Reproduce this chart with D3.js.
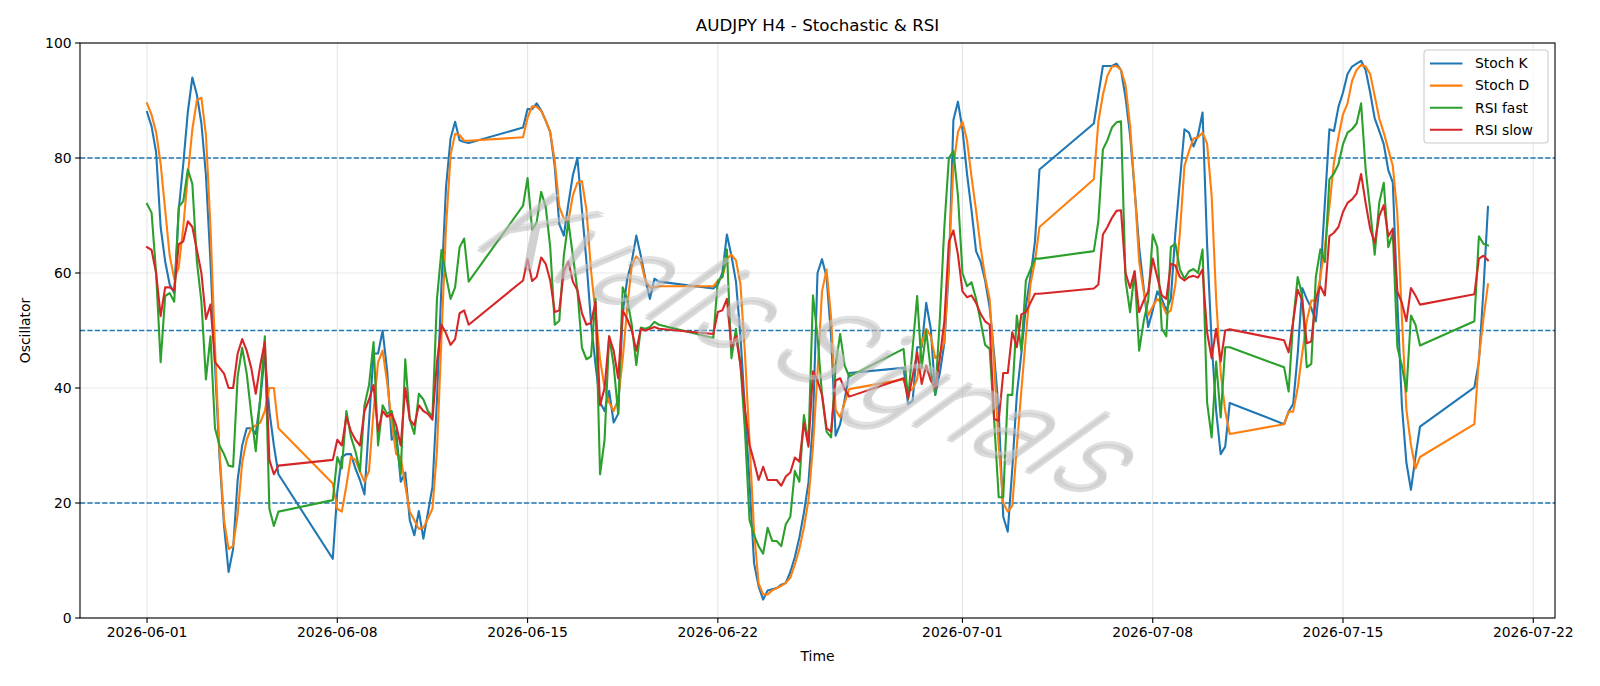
<!DOCTYPE html>
<html>
<head>
<meta charset="utf-8">
<script src="https://cdn.jsdelivr.net/npm/d3@7"></script>
<style>
  body { margin: 0; background: #fff; }
  svg { display: block; font-family: "DejaVu Sans", sans-serif; }
</style>
</head>
<body>
<div id="chart"></div>
<script>
// H4 bars, one session per week (Sunday 20:00 open, last bar Friday 20:00)
const weekOpens = ["2026-06-01 00:00", "2026-06-07 20:00", "2026-06-14 20:00", "2026-06-21 20:00",
                   "2026-06-28 20:00", "2026-07-05 20:00", "2026-07-12 20:00", "2026-07-19 20:00"];
const barsPerWeek = [30, 31, 31, 31, 31, 31, 31, 4];

const stochK = [
  88, 85.5, 81, 68, 62, 58, 56.5, 71, 79, 88, 94, 91, 86, 77, 62, 44, 28, 16, 8, 12, 24, 30, 33, 33, 32, 38, 46, 36, 30, 25,
  10.3, 22, 28, 28.5, 28.5, 26, 24, 21.5, 34, 46, 46, 50, 43, 31, 32.5, 23.7, 25.3, 17, 14.4, 18.6, 13.8, 18.3, 22.8, 38, 58, 75, 83.4, 86.3, 83.1, 82.8, 82.6,
  85.3, 88.5, 88.5, 89.5, 88.3, 86.5, 84.5, 78.5, 68.5, 66.5, 72, 77, 80, 71, 62, 51.5, 44, 37.5, 36, 39.5, 34, 35.5, 53, 59, 62, 66.5, 63, 59, 55.5, 59, 58.5,
  57.3, 58, 60, 66.7, 63, 58.5, 49, 36, 23.5, 9.5, 5.5, 3.2, 4.8, 5, 5.2, 5.8, 6.1, 8, 10.6, 14, 18.3, 23.5, 34, 60, 62.4, 59.3, 49, 31.7, 33.7, 38, 42.6,
  43.5, 37.2, 37.8, 47.1, 47.1, 54.8, 50.3, 38.8, 42.6, 47.8, 60.6, 86.6, 89.8, 85, 77.3, 70.9, 63.8, 62, 58.7, 54, 45.8, 36, 17.6, 15, 26, 38.8, 46, 54.2, 59.3, 65.4, 78,
  86, 91, 96, 96, 96, 96.4, 95.3, 90.5, 84, 74.5, 64.5, 57.4, 50.6, 53.5, 56.8, 55.5, 53.5, 55.5, 67, 76, 85, 84.4, 82, 84, 87.9, 65, 48, 36, 28.5, 29.8, 37.4,
  33.7, 35.9, 37.2, 45.9, 57.4, 55.5, 53.9, 51.6, 59.3, 72.2, 85, 84.7, 88.9, 91.4, 94.6, 95.9, 96.4, 96.9, 95.3, 91.4, 86.9, 84.7, 82.4, 77.9, 75.7, 55, 37, 27, 22.3, 28, 33.3,
  40.1, 44.6, 57, 71.5
];
const stochD = [
  89.5, 87.5, 84.5, 79, 71, 63, 59, 61, 68, 77, 85, 90, 90.5, 84, 68, 47, 29, 17, 12, 12.5, 18, 27, 31, 33, 33.5, 34, 36, 40, 40, 33,
  23.4, 19, 18.5, 23, 28, 27.5, 25.5, 23.7, 25.6, 36, 44.5, 46.5, 41, 34, 28.5, 28, 23, 18.5, 17, 15.5, 15.7, 17.3, 19, 29, 49, 68, 80.5, 84.2, 84, 83, 83,
  83.6, 87, 89, 88.9, 88.2, 86.5, 84.5, 79.5, 71.5, 69.5, 69, 73.5, 75.7, 76, 71, 60.5, 53, 45, 40, 37.5, 36, 38, 45, 54, 61.3, 62.9, 62, 58.7, 57.5, 57.5, 57.7,
  57.7, 58.6, 59.3, 62.5, 63.2, 62.2, 58, 45.8, 30.5, 15, 6, 4.1, 4.1, 4.8, 5.2, 5.6, 6.1, 7, 9.3, 12, 15.7, 20.5, 29.8, 42.6, 56.8, 60.6, 52.3, 36.2, 34.9, 37.5, 39.8,
  41.5, 39.4, 39.8, 41.5, 47.8, 50.3, 49, 45.2, 45.8, 48, 62, 78.5, 84.5, 86.3, 83.1, 76.7, 70.9, 64.5, 59.3, 55.5, 44, 30, 20, 18.5, 19.5, 29.8, 39.5, 49, 58, 62, 68,
  76.3, 86.3, 91, 94.3, 95.9, 96, 95.3, 92.7, 85.6, 74.7, 62, 56.8, 52.6, 54.2, 55.5, 54.8, 52.9, 53.5, 58, 67, 78.6, 81.2, 83.4, 83.6, 84.4, 82.5, 73.5, 55.5, 42.6, 36, 32,
  33.7, 35.9, 35.9, 40, 46, 51.6, 55.2, 55.2, 59.3, 64.5, 71.5, 79.2, 83.7, 87.6, 89.5, 93.4, 95.3, 96.2, 95.9, 94.6, 90.8, 86.9, 84.4, 81.5, 78.6, 70.3, 52.3, 36.2, 30.1, 26, 28,
  33.7, 45.2, 52, 58
];
const rsiFast = [
  72, 70.5, 60, 44.5, 56, 56.5, 55, 71.5, 72.5, 78, 75.5, 62, 55, 41.5, 49, 33, 30, 28.5, 26.5, 26.3, 42, 47, 42.5, 35.5, 29, 38.5, 49, 19, 16, 18.5,
  20.5, 28, 26, 36, 31.5, 29, 25.5, 37, 40.5, 48, 30, 37, 35.5, 36, 31, 25, 45, 34.5, 32, 39, 38, 36, 35, 55.5, 64, 59.5, 55.5, 57.5, 64.5, 66, 58.5,
  71.7, 76.5, 67.5, 68.8, 74.1, 71.5, 64.5, 51, 51.7, 63, 69, 63, 57, 47, 45, 45.5, 55.5, 25, 31, 49, 44, 35.5, 57.5, 55.5, 51, 44, 50.5, 50.3, 50.6, 51.5, 51,
  48.7, 58.7, 59.3, 64.1, 45.2, 50.3, 44, 32.4, 17, 14.4, 12.5, 11.2, 15.7, 13.4, 13.4, 12.5, 16.3, 17.6, 25.6, 23.7, 35.3, 30.2, 56.1, 49, 38.8, 32.4, 31.4, 43.9, 49.4, 43.9, 42,
  46.8, 38, 47, 56, 43.5, 50, 43, 38.8, 52, 68, 80, 81.2, 73.5, 60, 57.7, 58.4, 55.5, 51.6, 47.5, 46.8, 34.3, 21, 21, 38.8, 38.8, 52.6, 46.5, 58.7, 60.6, 62.5, 62.5,
  63.8, 69, 81.5, 83.1, 85.3, 86.2, 86.4, 58.7, 53.2, 60.3, 46.5, 51.6, 55.2, 66.7, 64.5, 50.3, 49, 64.5, 65.1, 60.6, 59, 60.3, 60.7, 60, 64.1, 37.5, 31.4, 44.6, 34.9, 47.1, 47.1,
  43.6, 39.4, 51.6, 59.3, 56.1, 43.6, 44.2, 59.3, 64.1, 61.9, 76.3, 77.3, 78.9, 82.4, 84.4, 85, 86, 89.5, 78, 71, 63.2, 72.2, 75.7, 64.5, 67, 47.1, 43.9, 39.4, 52.6, 51, 47.4,
  51.6, 66.4, 65.1, 64.8
];
const rsiSlow = [
  64.5, 64, 60, 52.5, 57.5, 57.5, 57, 65, 65.5, 69, 68, 64, 60, 52, 54.5, 44.5, 43.5, 42.5, 40, 40, 46, 48.5, 46.5, 43.5, 39, 44, 48, 27.5, 25, 26.5,
  27.5, 31, 30, 35, 32.5, 31, 30, 36, 38, 40.5, 32.5, 36, 35, 35.5, 33.5, 30, 40, 34.5, 33.5, 37, 36, 35.5, 34.5, 44.5, 51, 49.5, 47.5, 48.5, 53, 53.5, 51,
  58.7, 62.4, 58.6, 59.3, 62.7, 61.6, 58.7, 53.2, 53.5, 60.3, 62, 58.5, 57, 53, 51, 51.3, 55, 37, 40, 49, 46.5, 41.7, 53.5, 52, 50, 46.5, 50.3, 50, 50.3, 50.6, 50.3,
  49.4, 53.2, 53.5, 55.5, 47.1, 49, 44, 36.2, 30.1, 27.2, 24, 26.3, 24, 24, 24, 23, 24.6, 25.3, 27.9, 27.2, 33.9, 29.8, 42.9, 41.3, 38.8, 33, 32.4, 41.3, 41.7, 39.8, 38.5,
  41.7, 38.2, 42, 46.2, 40.7, 43.9, 41.3, 40, 45.2, 51.6, 65.4, 67.4, 63.2, 56.8, 55.8, 56.1, 54.8, 52.9, 51.6, 51, 34.6, 34.3, 42.6, 42.6, 49.7, 47.1, 52.8, 53.2, 54.8, 56.4, 56.4,
  57.3, 58, 66.7, 68, 69.6, 70.8, 70.9, 60, 57.4, 60.3, 53.2, 55.2, 56.8, 62.5, 59.3, 56.1, 55.5, 61.6, 61.3, 59.3, 58.7, 59.3, 59.5, 59.2, 60.6, 49.7, 45.2, 50.3, 44.6, 50, 50.2,
  48.3, 46.2, 51.6, 57.1, 55.2, 47.8, 48.1, 55.5, 57.7, 56.1, 66.4, 67, 68, 70.6, 72.2, 72.8, 73.8, 77.2, 72.2, 67.7, 65.2, 69.9, 71.8, 66.4, 67.7, 56.8, 54.8, 51.6, 57.4, 56.1, 54.5,
  56.3, 62.5, 63, 62.2
];

const seriesNames = ["Stoch K", "Stoch D", "RSI fast", "RSI slow"];
const seriesColors = ["#1f77b4", "#ff7f0e", "#2ca02c", "#d62728"];
const levels = [80, 50, 20];
const yTicks = [0, 20, 40, 60, 80, 100];
const xTickDates = ["2026-06-01", "2026-06-08", "2026-06-15", "2026-06-22", "2026-07-01", "2026-07-08", "2026-07-15", "2026-07-22"];

const W = 1600, H = 686;
const margin = {top: 43, right: 45, bottom: 68, left: 80};

// build timestamps from the weekly session opens
const parseTime = d3.utcParse("%Y-%m-%d %H:%M");
const times = [];
weekOpens.forEach((w, i) => {
  const t0 = parseTime(w);
  for (let n = 0; n < barsPerWeek[i]; n++) times.push(d3.utcHour.offset(t0, 4 * n));
});

const series = [stochK, stochD, rsiFast, rsiSlow].map((vals, i) => ({
  name: seriesNames[i],
  color: seriesColors[i],
  values: vals.map((v, j) => ({t: times[j], v: v}))
}));

const svg = d3.select("#chart").append("svg")
  .attr("width", W).attr("height", H);

const ext = d3.extent(times);
const pad = (ext[1] - ext[0]) * 0.05;
const x = d3.scaleUtc()
  .domain([new Date(+ext[0] - pad), new Date(+ext[1] + pad)])
  .range([margin.left, W - margin.right]);
const y = d3.scaleLinear().domain([0, 100]).range([H - margin.bottom, margin.top]);

const plotL = margin.left, plotR = W - margin.right, plotT = margin.top, plotB = H - margin.bottom;
const parseDay = d3.utcParse("%Y-%m-%d");
const xTicks = xTickDates.map(parseDay);

// grid
const grid = svg.append("g");
grid.selectAll(".vg").data(xTicks).enter().append("line")
  .attr("x1", d => x(d)).attr("x2", d => x(d))
  .attr("y1", plotT).attr("y2", plotB)
  .attr("stroke", "#b0b0b0").attr("stroke-opacity", 0.3).attr("stroke-width", 1.1);
grid.selectAll(".hg").data(yTicks).enter().append("line")
  .attr("x1", plotL).attr("x2", plotR)
  .attr("y1", d => y(d)).attr("y2", d => y(d))
  .attr("stroke", "#b0b0b0").attr("stroke-opacity", 0.3).attr("stroke-width", 1.1);

// level lines
svg.append("g").selectAll("line").data(levels).enter().append("line")
  .attr("x1", plotL).attr("x2", plotR)
  .attr("y1", d => y(d)).attr("y2", d => y(d))
  .attr("stroke", "#1f77b4").attr("stroke-width", 1.4)
  .attr("stroke-dasharray", "5.2,2.2");

// series lines
const line = d3.line().x(d => x(d.t)).y(d => y(d.v));
svg.append("clipPath").attr("id", "clip").append("rect")
  .attr("x", plotL).attr("y", plotT).attr("width", plotR - plotL).attr("height", plotB - plotT);
svg.append("g").attr("clip-path", "url(#clip)")
  .selectAll("path").data(series).enter().append("path")
  .attr("d", d => line(d.values))
  .attr("fill", "none")
  .attr("stroke", d => d.color)
  .attr("stroke-width", 2.1)
  .attr("stroke-linejoin", "round")
  .attr("stroke-linecap", "square");

// watermark (slanted, thin, with a faint drop shadow)
const wm = svg.append("g")
  .attr("transform", "translate(780,370) rotate(22) skewX(-32)")
  .style("font-family", "Roboto, 'DejaVu Sans', sans-serif")
  .style("font-weight", 300)
  .style("font-size", "112px");
wm.append("text").attr("text-anchor", "middle").attr("x", 2.5).attr("y", 3)
  .attr("fill", "#888888").attr("fill-opacity", 0.3).text("Kvalis Signals");
wm.append("text").attr("text-anchor", "middle")
  .attr("fill", "#c8c8c8").attr("fill-opacity", 0.55)
  .text("Kvalis Signals");

// axes frame
svg.append("rect")
  .attr("x", plotL).attr("y", plotT).attr("width", plotR - plotL).attr("height", plotB - plotT)
  .attr("fill", "none").attr("stroke", "#000").attr("stroke-width", 1.1);

// x ticks
const xAx = svg.append("g");
xAx.selectAll("line").data(xTicks).enter().append("line")
  .attr("x1", d => x(d)).attr("x2", d => x(d))
  .attr("y1", plotB).attr("y2", plotB + 4.9)
  .attr("stroke", "#000").attr("stroke-width", 1.1);
xAx.selectAll("text").data(xTicks).enter().append("text")
  .attr("x", d => x(d)).attr("y", plotB + 8.4).attr("dy", "0.76em")
  .attr("text-anchor", "middle").style("font-size", "13.9px")
  .text(d3.utcFormat("%Y-%m-%d"));

// y ticks
const yAx = svg.append("g");
yAx.selectAll("line").data(yTicks).enter().append("line")
  .attr("x1", plotL - 4.9).attr("x2", plotL)
  .attr("y1", d => y(d)).attr("y2", d => y(d))
  .attr("stroke", "#000").attr("stroke-width", 1.1);
yAx.selectAll("text").data(yTicks).enter().append("text")
  .attr("x", plotL - 8.4).attr("y", d => y(d)).attr("dy", "0.35em")
  .attr("text-anchor", "end").style("font-size", "13.9px")
  .text(d => d);

// labels
svg.append("text").attr("x", (plotL + plotR) / 2).attr("y", 31)
  .attr("text-anchor", "middle").style("font-size", "16.7px")
  .text("AUDJPY H4 - Stochastic & RSI");
svg.append("text").attr("x", (plotL + plotR) / 2).attr("y", 661)
  .attr("text-anchor", "middle").style("font-size", "13.9px").text("Time");
svg.append("text").attr("transform", `translate(30,${(plotT + plotB) / 2}) rotate(-90)`)
  .attr("text-anchor", "middle").style("font-size", "13.9px").text("Oscillator");

// legend
const lg = svg.append("g").attr("transform", "translate(1424,50)");
lg.append("rect").attr("width", 124).attr("height", 93).attr("rx", 3)
  .attr("fill", "#fff").attr("fill-opacity", 0.8)
  .attr("stroke", "#cccccc").attr("stroke-width", 1.1);
const items = lg.selectAll(".item").data(series).enter().append("g")
  .attr("transform", (d, i) => `translate(0,${13.5 + i * 22.1})`);
items.append("line").attr("x1", 6).attr("x2", 38.5)
  .attr("stroke", d => d.color).attr("stroke-width", 2.1);
items.append("text").attr("x", 51).attr("dy", "0.35em")
  .style("font-size", "13.9px").text(d => d.name);
</script>
</body>
</html>
